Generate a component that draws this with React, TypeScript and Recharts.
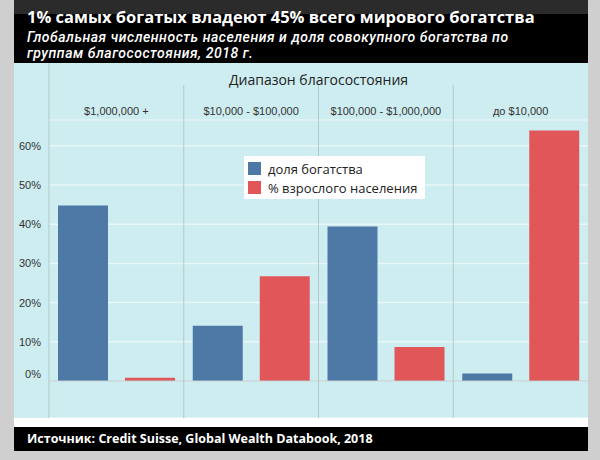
import { BarChart, Bar, XAxis, YAxis, CartesianGrid, ReferenceLine, Legend } from "recharts";

const CATEGORIES = ["$1,000,000 +", "$10,000 - $100,000", "$100,000 - $1,000,000", "до $10,000"];
const WEALTH_SHARE = [44.8, 14.1, 39.4, 1.9];
const ADULT_SHARE = [0.8, 26.7, 8.7, 63.9];
const Y_TICKS = [0, 10, 20, 30, 40, 50, 60];

const SERIES = [
  { key: "wealth", label: "доля богатства", color: "#4e79a7" },
  { key: "adults", label: "% взрослого населения", color: "#e15759" },
];

const data = CATEGORIES.map((name, i) => ({
  name,
  wealth: WEALTH_SHARE[i],
  adults: ADULT_SHARE[i],
}));

const CHART_W = 574;
const CHART_H = 355;
const Y_AXIS_W = 35;
const HEADER_H = 57;
const BAND = (CHART_W - Y_AXIS_W) / CATEGORIES.length;
const DIVIDER = "#b4c8cb";
const TICK_FONT = "'Liberation Sans', Arial, sans-serif";
const SANS = "'Open Sans', 'Noto Sans', sans-serif";

function CategoryTick({ x, payload, index }: any) {
  const left = x - BAND / 2;
  return (
    <g>
      <line x1={left} x2={left} y1={index === 0 ? 0 : 22} y2={HEADER_H} stroke={DIVIDER} />
      <text
        x={x}
        y={HEADER_H - 9}
        textAnchor="middle"
        dominantBaseline="central"
        fontSize={11}
        fill="#333"
        fontFamily={TICK_FONT}
      >
        {payload.value}
      </text>
    </g>
  );
}

function PercentTick({ x, y, payload }: any) {
  return (
    <text
      x={x}
      y={payload.value === 0 ? y - 7 : y}
      textAnchor="end"
      dominantBaseline="central"
      fontSize={11}
      fill="#333"
      fontFamily={TICK_FONT}
    >
      {payload.value}%
    </text>
  );
}

// legend in series order (recharts may hand it over reversed)
function LegendBox() {
  return (
    <div style={{ background: "#fff", padding: "3px 8px 2px 4px", fontFamily: SANS, fontSize: 13, color: "#222" }}>
      {SERIES.map((s) => (
        <div key={s.key} style={{ display: "flex", alignItems: "center", height: 19 }}>
          <span style={{ width: 13, height: 13, background: s.color, marginRight: 7, display: "inline-block" }} />
          {s.label}
        </div>
      ))}
    </div>
  );
}

const subtitleLine = {
  position: "absolute" as const,
  left: 13,
  fontFamily: "Roboto, 'Open Sans', sans-serif",
  fontSize: 14,
  fontWeight: 500,
  fontStyle: "italic",
  letterSpacing: "0.55px",
  lineHeight: "16.5px",
  whiteSpace: "nowrap" as const,
};

export default function App() {
  return (
    <div style={{ position: "absolute", left: 0, top: 0, width: 600, height: 460, background: "#cfcfcf", overflow: "hidden" }}>
      <div
        style={{
          position: "absolute",
          left: 14,
          top: 0,
          width: 574,
          height: 63,
          background: "linear-gradient(#2b2b2b 0px, #2b2b2b 14px, #000 14px)",
          color: "#fff",
          fontFamily: SANS,
        }}
      >
        <div style={{ position: "absolute", left: 13, top: 6, fontSize: 16.5, lineHeight: "22px", fontWeight: 700, whiteSpace: "nowrap" }}>
          1% самых богатых владеют 45% всего мирового богатства
        </div>
        <div style={{ ...subtitleLine, top: 28.75 }}>
          Глобальная численность населения и доля совокупного богатства по
        </div>
        <div style={{ ...subtitleLine, top: 45.25 }}>группам благосостояния, 2018 г.</div>
      </div>

      <div style={{ position: "absolute", left: 14, top: 63, width: CHART_W, height: CHART_H, background: "#cdedf0" }}>
        <BarChart
          width={CHART_W}
          height={CHART_H}
          data={data}
          margin={{ top: 0, right: 0, bottom: 0, left: 0 }}
          barSize={50}
          barGap={17}
        >
          <CartesianGrid stroke="#e9f7f8" strokeWidth={1.5} vertical={false} />
          <CartesianGrid
            stroke={DIVIDER}
            horizontal={false}
            verticalCoordinatesGenerator={({ offset }: any) =>
              [0, 1, 2, 3].map((i) => offset.left + (i * offset.width) / CATEGORIES.length)
            }
          />
          <XAxis
            dataKey="name"
            orientation="top"
            height={HEADER_H}
            tickLine={false}
            axisLine={{ stroke: "#d8eef0" }}
            tick={<CategoryTick />}
            interval={0}
          />
          <YAxis
            width={Y_AXIS_W}
            domain={[-9.45, 66.6]}
            ticks={Y_TICKS}
            tickLine={false}
            axisLine={false}
            tick={<PercentTick />}
            allowDataOverflow
          />
          <ReferenceLine y={0} stroke="#b8c7c9" />
          <Legend
            layout="vertical"
            align="center"
            verticalAlign="middle"
            content={<LegendBox />}
            wrapperStyle={{ left: 230, top: 93, width: "auto" }}
          />
          {SERIES.map((s) => (
            <Bar key={s.key} dataKey={s.key} name={s.label} fill={s.color} isAnimationActive={false} />
          ))}
        </BarChart>
        <div
          style={{
            position: "absolute",
            left: Y_AXIS_W,
            top: 7,
            width: CHART_W - Y_AXIS_W,
            textAlign: "center",
            fontFamily: SANS,
            fontSize: 14,
            color: "#222",
          }}
        >
          Диапазон благосостояния
        </div>
      </div>

      <div style={{ position: "absolute", left: 14, top: 418, width: 574, height: 9, background: "#fff" }} />
      <div
        style={{
          position: "absolute",
          left: 14,
          top: 427,
          width: 574,
          height: 24,
          background: "#000",
          color: "#fff",
          fontFamily: SANS,
          fontWeight: 700,
          fontSize: 12.5,
          lineHeight: "24px",
          paddingLeft: 13,
          boxSizing: "border-box",
        }}
      >
        Источник: Credit Suisse, Global Wealth Databook, 2018
      </div>
    </div>
  );
}
